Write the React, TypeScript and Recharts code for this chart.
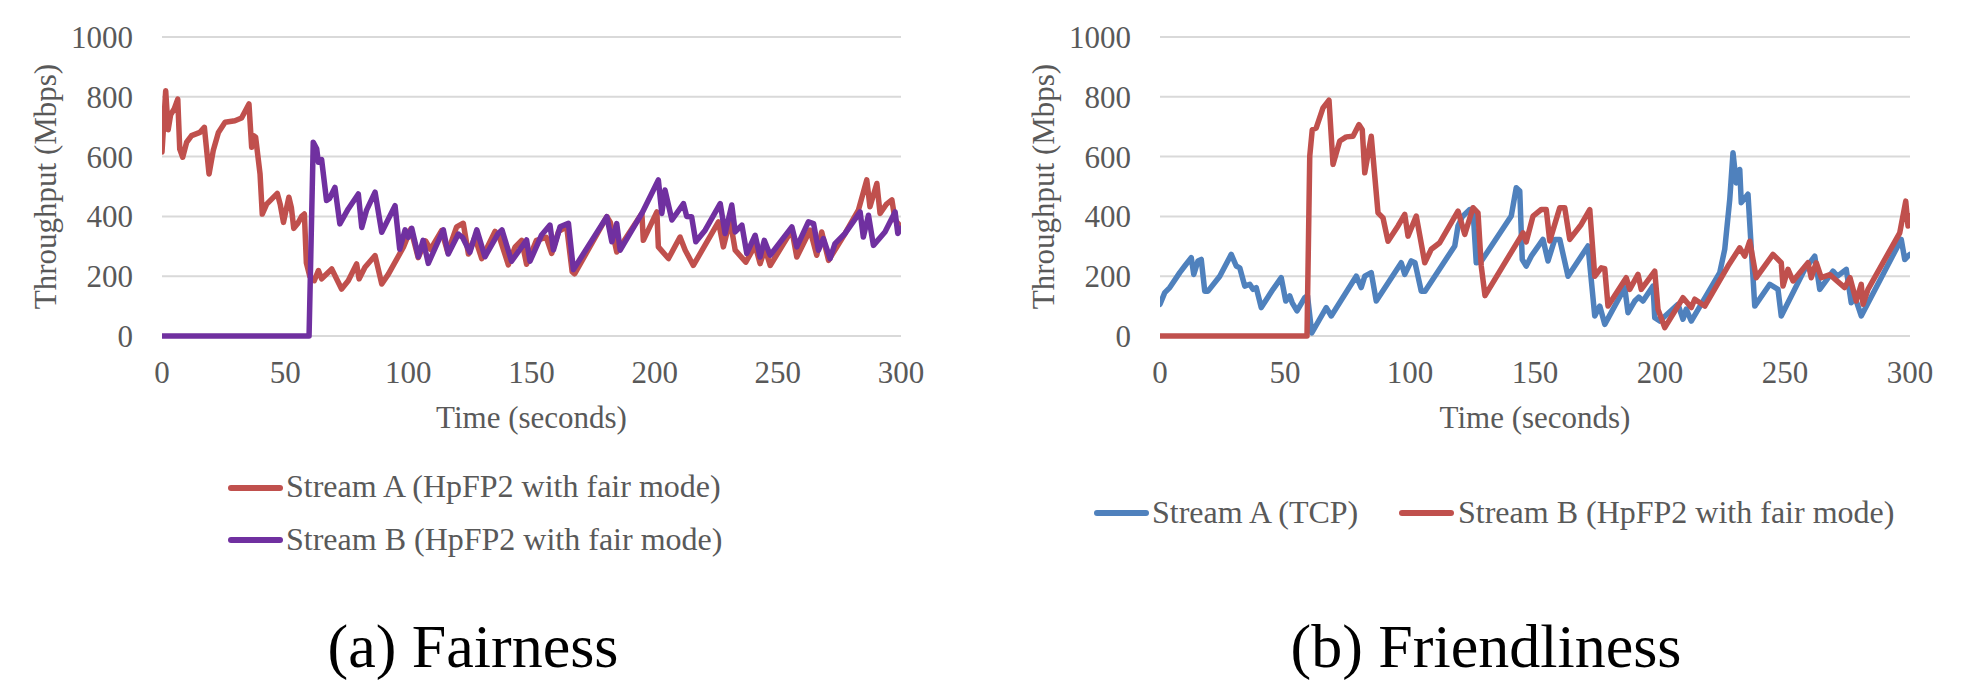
import React from 'react';
import { LineChart, Line, XAxis, YAxis, CartesianGrid } from 'recharts';

// (a) Fairness: both streams are HpFP2 in fair mode
const fairTimeA = [0, 1.5, 2.5, 3.5, 5, 6.4, 7.2, 8.4, 10, 12, 15.4, 17.2, 19.1, 20.8, 22.9, 25.6, 29.6, 32.3, 35.3, 36.4, 37.2, 38, 39.8, 40.7, 42.5, 44.5, 46.8, 48, 49.3, 51.5, 52.5, 53.5, 55, 56.7, 57.8, 58.6, 60, 61.8, 63.5, 64.8, 66.5, 68.9, 72.9, 75.6, 79, 80, 82.4, 86.5, 89.2, 91.9, 98, 101, 104, 107, 109, 113.5, 116, 119.6, 122.3, 124.4, 127, 129.8, 135.2, 137, 140.6, 143.3, 146, 148, 152, 156, 158.2, 161, 164.3, 166.5, 167.5, 180.6, 182, 184.6, 194.8, 195.4, 200.9, 201.5, 205.6, 210.3, 212.4, 215.7, 225.9, 227.9, 230.6, 232.7, 237, 240.8, 242.8, 244.8, 246.9, 255.7, 257.7, 263.1, 265.8, 267.8, 270.6, 277.3, 282.7, 286.1, 287.4, 290.2, 291.5, 294, 296.3, 297.6, 300];
const fairStreamA = [615, 820, 690, 740, 760, 792, 625, 598, 648, 670, 681, 698, 542, 620, 681, 715, 720, 729, 776, 631, 670, 665, 542, 408, 441, 458, 477, 440, 380, 464, 430, 360, 375, 400, 408, 245, 200, 185, 219, 191, 205, 224, 157, 185, 241, 191, 230, 269, 174, 207, 297, 358, 262, 318, 290, 352, 280, 365, 377, 274, 330, 259, 350, 330, 238, 297, 320, 240, 320, 330, 276, 350, 365, 215, 208, 399, 380, 281, 410, 320, 415, 298, 259, 331, 287, 236, 382, 298, 388, 287, 247, 303, 242, 292, 236, 354, 264, 354, 270, 348, 253, 343, 421, 522, 432, 510, 410, 440, 455, 388, 365];

const fairTimeB = [0, 59.7, 61.4, 62.8, 63.5, 64.8, 66.8, 68, 70.2, 72.2, 75.6, 79.7, 81.1, 83, 86.5, 89.2, 94.6, 96.5, 98.7, 100, 101.4, 104.1, 106, 108.1, 114.2, 116.2, 120.3, 122, 125, 127.8, 131.1, 136.5, 138, 141.9, 148, 149.4, 154.1, 157.5, 158.9, 161.6, 165, 167, 180.6, 182.6, 184.6, 186, 194.8, 201.5, 202.9, 204.2, 207, 211.7, 213, 215, 216.7, 220.5, 226.6, 228.6, 231.3, 232.7, 235.4, 237.4, 240.8, 242.8, 244.5, 246.9, 255.7, 257.7, 262.4, 264.5, 266.5, 268.5, 271.2, 273.2, 277.3, 283.4, 284.7, 286.8, 288.8, 293.5, 297.6, 298.7, 300];
const fairStreamB = [0, 0, 648, 626, 581, 590, 453, 460, 497, 375, 425, 475, 363, 420, 481, 347, 436, 290, 355, 330, 360, 265, 320, 243, 355, 274, 341, 330, 280, 355, 265, 343, 355, 250, 321, 250, 338, 371, 288, 365, 377, 222, 399, 315, 376, 287, 410, 522, 410, 488, 388, 443, 400, 399, 315, 354, 443, 343, 438, 348, 371, 276, 337, 264, 320, 270, 365, 298, 382, 376, 287, 326, 259, 309, 343, 415, 331, 404, 303, 348, 415, 343, 360];

// (b) Friendliness: TCP against HpFP2 in fair mode
const friendTimeA = [0, 1.9, 3.9, 7.9, 9.9, 12.5, 13.5, 15.2, 16.5, 17.9, 19.2, 23.9, 28.5, 30.5, 31.9, 33.9, 35.9, 37.2, 38.5, 40.5, 45.2, 48.5, 50.3, 51.9, 52.9, 54.8, 57.9, 59, 60.7, 66.5, 68.5, 78.5, 80.5, 81.9, 84.5, 86.5, 96.5, 97.9, 100.5, 102, 104.5, 106, 117.9, 119.2, 121, 123.9, 125.2, 126.5, 128.5, 140.5, 142.5, 143.9, 144.9, 146.5, 148.5, 153.2, 155.2, 157.9, 159.9, 163.2, 171.2, 173.9, 175.9, 177.9, 185.9, 187.2, 189.9, 191.5, 193.2, 197.2, 197.9, 199.9, 207.2, 209.2, 210.5, 212.5, 223.9, 225.9, 227.9, 229.2, 230.5, 231.9, 232.5, 235.2, 237.9, 243.9, 247.2, 248.5, 257.9, 261.9, 263.9, 269.2, 271, 274.5, 276.5, 278, 280.5, 296.5, 297.9, 299.2, 300];
const friendStreamA = [106, 145, 162, 212, 234, 262, 206, 251, 256, 150, 150, 200, 273, 234, 228, 167, 173, 156, 162, 95, 156, 195, 117, 134, 111, 84, 128, 135, 10, 95, 67, 200, 162, 200, 212, 117, 245, 206, 251, 245, 150, 150, 301, 368, 400, 423, 423, 245, 250, 401, 496, 485, 256, 234, 267, 323, 251, 323, 323, 200, 301, 67, 100, 39, 162, 78, 117, 130, 117, 167, 61, 50, 106, 56, 90, 50, 212, 290, 457, 613, 512, 557, 446, 474, 100, 173, 156, 67, 223, 267, 156, 217, 200, 223, 111, 130, 67, 323, 256, 267, 273];

const friendTimeB = [0, 58.8, 59.9, 60.9, 62.5, 65.2, 67.6, 69.2, 71.9, 74.5, 77.2, 79.6, 80.9, 81.9, 84.5, 87.2, 89.2, 91.2, 95.2, 97.9, 99.2, 102.5, 105.9, 108.5, 111.9, 119.2, 121.9, 125.2, 127.2, 128.5, 130, 145.2, 146.5, 149.2, 152.5, 154.5, 155.9, 159.9, 161.9, 163.9, 168.5, 171.9, 173.9, 176.5, 177.9, 179.2, 186.5, 187.9, 191.2, 192.5, 197.9, 199.2, 201.9, 209.2, 212.5, 213.9, 217.9, 227.2, 231.9, 233.9, 235.9, 238.5, 245.2, 248.5, 249.2, 251.2, 253.2, 259.2, 260.5, 262.5, 264.5, 268, 270, 273.9, 276, 278.5, 280.5, 281.2, 283.2, 295.9, 298.3, 299.2, 300];
const friendStreamB = [0, 0, 602, 690, 696, 763, 789, 574, 652, 666, 668, 707, 690, 546, 668, 412, 395, 317, 368, 407, 334, 401, 245, 290, 312, 418, 340, 429, 412, 234, 135, 345, 315, 401, 423, 423, 318, 429, 429, 323, 373, 423, 200, 228, 225, 100, 195, 156, 206, 156, 217, 89, 28, 128, 95, 123, 100, 234, 295, 267, 317, 195, 273, 245, 167, 223, 184, 245, 195, 245, 195, 205, 190, 162, 195, 117, 173, 106, 156, 345, 451, 368, 401];

const xTicks = [0, 50, 100, 150, 200, 250, 300];
const yTicks = [0, 200, 400, 600, 800, 1000];

const RED = '#C0504D';
const PURPLE = '#7030A0';
const BLUE = '#4F81BD';
const TEXT = '#595959';
const FONT = '"Liberation Serif", "Times New Roman", serif';

const toPoints = (times: number[], values: number[]) => times.map((t, i) => ({ t, v: values[i] }));

interface SeriesDef {
  name: string;
  color: string;
  points: { t: number; v: number }[];
}

interface PanelProps {
  width: number;
  axisWidth: number;
  rightMargin: number;
  labelOffset: number;
  series: SeriesDef[];
}

const tickStyle = { fill: TEXT, fontSize: 31, fontFamily: FONT };

const Panel: React.FC<PanelProps> = ({ width, axisWidth, rightMargin, labelOffset, series }) => (
  <LineChart
    width={width}
    height={440}
    margin={{ top: 37, right: rightMargin, left: 0, bottom: 0 }}
    style={{ fontFamily: FONT }}
  >
    <CartesianGrid vertical={false} stroke="#d9d9d9" strokeWidth={2} />
    <XAxis
      type="number"
      dataKey="t"
      domain={[0, 300]}
      ticks={xTicks}
      allowDataOverflow
      height={104}
      tickLine={false}
      axisLine={false}
      tickMargin={19}
      tick={tickStyle}
      label={{ value: 'Time (seconds)', position: 'insideBottom', offset: 12, fill: TEXT, fontSize: 31, fontFamily: FONT }}
    />
    <YAxis
      type="number"
      domain={[0, 1000]}
      ticks={yTicks}
      width={axisWidth}
      tickLine={false}
      axisLine={false}
      tickMargin={23}
      tick={tickStyle}
      label={{
        value: 'Throughput (Mbps)',
        angle: -90,
        position: 'insideLeft',
        offset: labelOffset,
        fill: TEXT,
        fontSize: 31,
        fontFamily: FONT,
        style: { textAnchor: 'middle' },
      }}
    />
    {series.map((s) => (
      <Line
        key={s.name}
        data={s.points}
        dataKey="v"
        name={s.name}
        type="linear"
        stroke={s.color}
        strokeWidth={5.5}
        strokeLinejoin="round"
        strokeLinecap="round"
        dot={false}
        activeDot={false}
        isAnimationActive={false}
      />
    ))}
  </LineChart>
);

const Swatch = ({ color, left, top }: { color: string; left: number; top: number }) => (
  <div style={{ position: 'absolute', left, top: top - 3, width: 55, height: 6, borderRadius: 3, background: color }} />
);

const LegendText = ({ text, left, top }: { text: string; left: number; top: number }) => (
  <div style={{ position: 'absolute', left, top, fontSize: 32, lineHeight: '32px', color: TEXT, whiteSpace: 'nowrap' }}>
    {text}
  </div>
);

const Caption = ({ text, center }: { text: string; center: number }) => (
  <div
    style={{
      position: 'absolute',
      left: center - 300,
      width: 600,
      top: 615,
      textAlign: 'center',
      fontSize: 62,
      lineHeight: '62px',
      color: '#000',
      whiteSpace: 'nowrap',
    }}
  >
    {text}
  </div>
);

export default function App() {
  const fairness: SeriesDef[] = [
    { name: 'Stream A (HpFP2 with fair mode)', color: RED, points: toPoints(fairTimeA, fairStreamA) },
    { name: 'Stream B (HpFP2 with fair mode)', color: PURPLE, points: toPoints(fairTimeB, fairStreamB) },
  ];
  const friendliness: SeriesDef[] = [
    { name: 'Stream A (TCP)', color: BLUE, points: toPoints(friendTimeA, friendStreamA) },
    { name: 'Stream B (HpFP2 with fair mode)', color: RED, points: toPoints(friendTimeB, friendStreamB) },
  ];

  return (
    <div
      style={{
        position: 'absolute',
        left: 0,
        top: 0,
        width: 1978,
        height: 680,
        background: '#fff',
        fontFamily: FONT,
        overflow: 'hidden',
      }}
    >
      <div style={{ position: 'absolute', left: 0, top: 0 }}>
        <Panel width={960} axisWidth={162} rightMargin={59} labelOffset={45} series={fairness} />
      </div>
      <div style={{ position: 'absolute', left: 990, top: 0 }}>
        <Panel width={988} axisWidth={170} rightMargin={68} labelOffset={53} series={friendliness} />
      </div>

      <Swatch color={RED} left={228} top={488} />
      <LegendText text="Stream A (HpFP2 with fair mode)" left={286} top={470} />
      <Swatch color={PURPLE} left={228} top={540} />
      <LegendText text="Stream B (HpFP2 with fair mode)" left={286} top={523} />

      <Swatch color={BLUE} left={1094} top={513} />
      <LegendText text="Stream A (TCP)" left={1152} top={496} />
      <Swatch color={RED} left={1399} top={513} />
      <LegendText text="Stream B (HpFP2 with fair mode)" left={1458} top={496} />

      <Caption text="(a) Fairness" center={473} />
      <Caption text="(b) Friendliness" center={1486} />
    </div>
  );
}
